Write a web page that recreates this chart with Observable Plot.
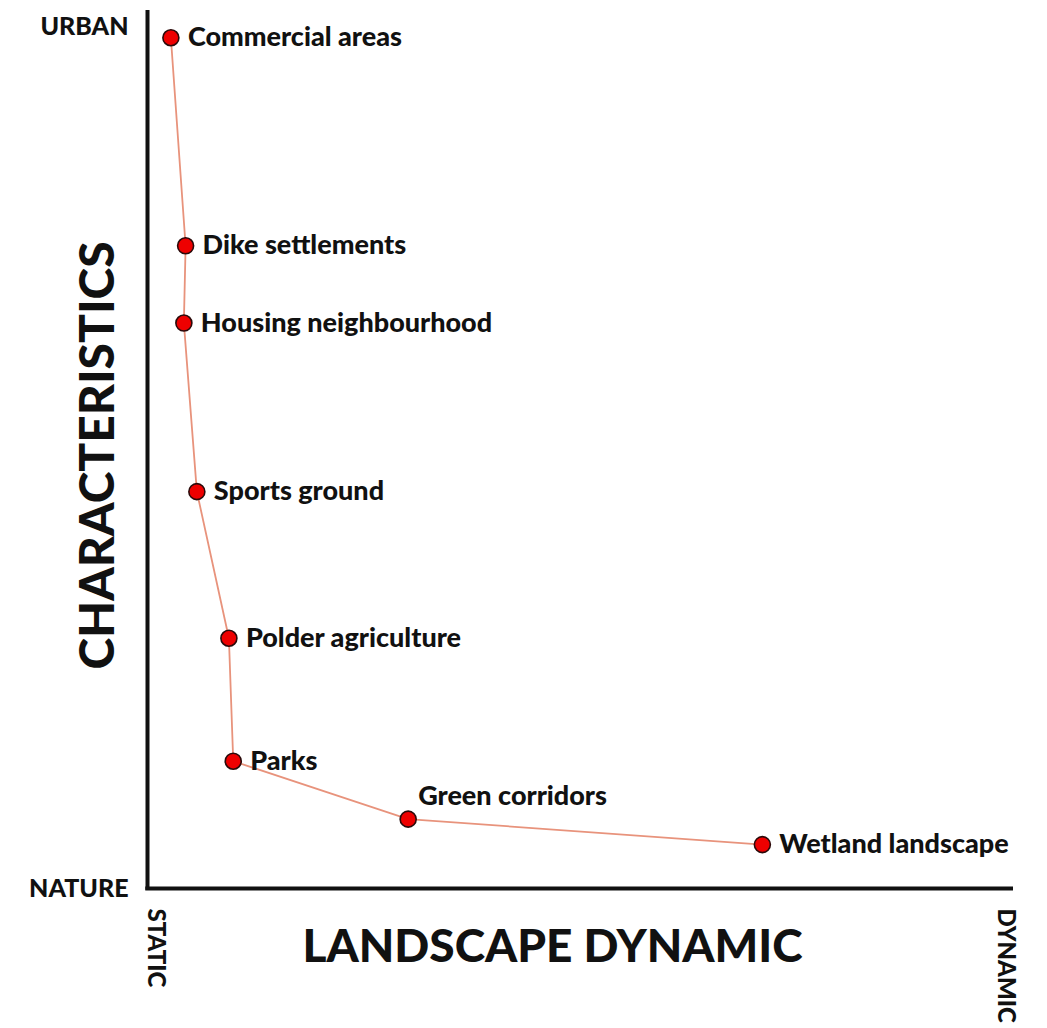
<!DOCTYPE html>
<html>
<head>
<meta charset="utf-8">
<script src="https://cdn.jsdelivr.net/npm/d3@7"></script>
<script src="https://cdn.jsdelivr.net/npm/@observablehq/plot@0.6"></script>
<style>
  html, body { margin: 0; padding: 0; background: #fff; }
  #chart svg { display: block; font-family: Lato, "Open Sans", sans-serif; }
</style>
</head>
<body>
<div id="chart"></div>
<script>
// Landscape types ordered along the line
const categories = [
  "Commercial areas",
  "Dike settlements",
  "Housing neighbourhood",
  "Sports ground",
  "Polder agriculture",
  "Parks",
  "Green corridors",
  "Wetland landscape"
];
// x: landscape dynamic (0 = static, 100 = dynamic)
const dynamicValues = [2.7, 4.4, 4.2, 5.7, 9.4, 9.9, 30.1, 71.0];
// y: characteristics (0 = nature, 100 = urban)
const urbanValues = [96.9, 73.2, 64.4, 45.2, 28.5, 14.5, 7.9, 5.0];

// axis end labels
const yEndLabels = ["NATURE", "URBAN"];
const yEndValues = [0, 98.1];
const xEndLabels = ["STATIC", "DYNAMIC"];
const xEndValues = [0.9, 99.1];

const xTitle = "LANDSCAPE DYNAMIC";
const yTitle = "CHARACTERISTICS";

const points = categories.map((c, i) => ({name: c, x: dynamicValues[i], y: urbanValues[i]}));
const yEnds = yEndLabels.map((t, i) => ({t, y: yEndValues[i]}));
const xEnds = xEndLabels.map((t, i) => ({t, x: xEndValues[i]}));

const chart = Plot.plot({
  width: 1047,
  height: 1028,
  marginLeft: 147,
  marginRight: 34,
  marginTop: 10,
  marginBottom: 140,
  x: {domain: [0, 100], axis: null},
  y: {domain: [0, 100], axis: null},
  marks: [
    Plot.ruleX([0], {y1: -0.2, y2: 100, stroke: "#111", strokeWidth: 4}),
    Plot.ruleY([0], {x1: -0.2, x2: 100, stroke: "#111", strokeWidth: 4}),
    Plot.line(points, {x: "x", y: "y", stroke: "#e8937c", strokeWidth: 1.8}),
    Plot.dot(points, {x: "x", y: "y", r: 8, fill: "#ee0000", stroke: "#2a0a0a", strokeWidth: 1.6}),
    Plot.text(points.filter(d => d.name !== "Green corridors"), {
      x: "x", y: "y", text: "name", textAnchor: "start", dx: 17, dy: 0,
      fontSize: 27, fontWeight: 900, fill: "#111"
    }),
    Plot.text(points.filter(d => d.name === "Green corridors"), {
      x: "x", y: "y", text: "name", textAnchor: "start", dx: 10, dy: -23,
      fontSize: 27, fontWeight: 900, fill: "#111"
    }),
    Plot.text(yEnds, {
      x: 0, y: "y", text: "t", textAnchor: "end", dx: -19,
      fontSize: 25, fontWeight: 900, fill: "#111"
    }),
    Plot.text(xEnds, {
      x: "x", y: 0, text: "t", textAnchor: "start", rotate: 90, dy: 20,
      fontSize: 24, fontWeight: 900, fill: "#111"
    }),
    Plot.text([xTitle], {
      frameAnchor: "bottom", text: d => d, dx: -28, dy: 59,
      textAnchor: "middle", lineAnchor: "middle",
      fontSize: 46, fontWeight: 900, fill: "#111"
    }),
    Plot.text([yTitle], {
      frameAnchor: "left", text: d => d, rotate: -90, dx: -49, dy: 6,
      textAnchor: "middle", lineAnchor: "middle",
      fontSize: 48, fontWeight: 900, fill: "#111"
    })
  ]
});
document.getElementById("chart").appendChild(chart);
</script>
</body>
</html>
